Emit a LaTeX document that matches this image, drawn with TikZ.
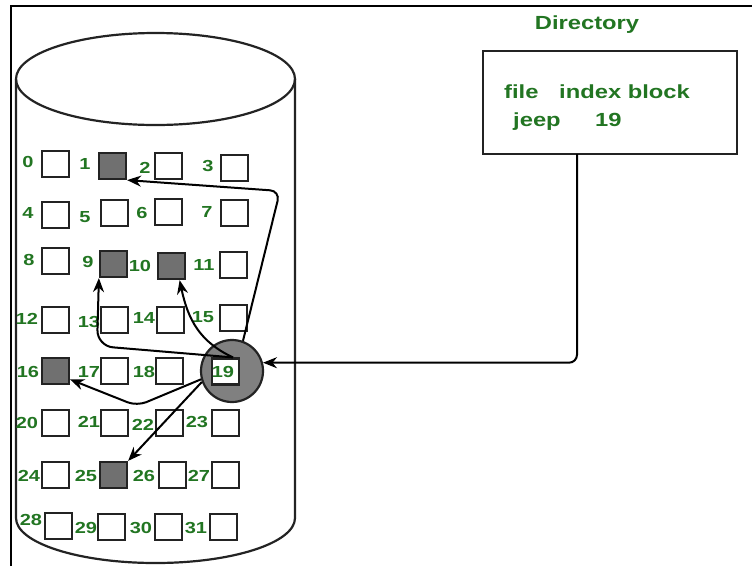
\documentclass[tikz,border=0pt]{standalone}
\usepackage{fontspec}
\newfontfamily\lblfont{Liberation Sans}[FakeStretch=1.25]
\definecolor{numgreen}{RGB}{34,117,34}
\definecolor{blkgray}{RGB}{112,112,112}
\definecolor{hubgray}{RGB}{128,128,128}
\definecolor{edgecol}{RGB}{35,35,35}
\usetikzlibrary{arrows.meta, positioning, calc}

\begin{document}
\begin{tikzpicture}[
  x=1pt, y=-1pt,
  blk/.style={rectangle, draw=edgecol, line width=2.2pt, fill=white,
              minimum width=27pt, minimum height=26pt, inner sep=0pt},
  used/.style={blk, fill=blkgray},
  num/.style={text=numgreen, inner sep=0pt,
              font=\lblfont\bfseries\fontsize{16}{16}\selectfont},
  dirtxt/.style={text=numgreen, inner sep=0pt,
                 font=\lblfont\bfseries\fontsize{19}{19}\selectfont},
  arr/.style={-{Stealth[length=14pt, width=11pt]}, line width=2pt, color=black}
]
\useasboundingbox (0,0) rectangle (752,566);

% frame and disk
\draw[line width=2.4pt, draw=black] (11,566) -- (11,6) -- (752,6);
\draw[line width=2.2pt, draw=edgecol] (155.5,79) ellipse [x radius=139.5, y radius=46];
\draw[line width=2.2pt, draw=edgecol] (16,79) -- (16,518)
  arc[start angle=180, end angle=0, x radius=139.5, y radius=45] -- (295,79);

\node[circle, draw=edgecol, line width=2.2pt, fill=hubgray, minimum size=62pt,
      inner sep=0pt] (hub) at (232,371) {};

% blocks
\node[blk]  (b0)  at (55.5,164)   {}; \node[num] (n0)  at (28,162)  {0};
\node[used] (b1)  at (112.5,166)  {}; \node[num] (n1)  at (85,164)  {1};
\node[blk]  (b2)  at (168.5,166)  {}; \node[num] (n2)  at (145,168) {2};
\node[blk]  (b3)  at (234.5,168)  {}; \node[num] (n3)  at (208,166) {3};
\node[blk]  (b4)  at (55.5,215)   {}; \node[num] (n4)  at (28,213)  {4};
\node[blk]  (b5)  at (114.5,213)  {}; \node[num] (n5)  at (85,217)  {5};
\node[blk]  (b6)  at (168.5,212)  {}; \node[num] (n6)  at (142,213) {6};
\node[blk]  (b7)  at (234.5,213)  {}; \node[num] (n7)  at (207,212) {7};
\node[blk]  (b8)  at (55.5,261)   {}; \node[num] (n8)  at (29,260)  {8};
\node[used] (b9)  at (113.5,264)  {}; \node[num] (n9)  at (88,262)  {9};
\node[used] (b10) at (171.5,266)  {}; \node[num] (n10) at (140,266) {10};
\node[blk]  (b11) at (233.5,265)  {}; \node[num] (n11) at (204,265) {11};
\node[blk]  (b12) at (55.5,320)   {}; \node[num] (n12) at (27,319)  {12};
\node[blk]  (b13) at (114.5,320)  {}; \node[num] (n13) at (89,322)  {13};
\node[blk]  (b14) at (170.5,320)  {}; \node[num] (n14) at (144,318) {14};
\node[blk]  (b15) at (233.5,318)  {}; \node[num] (n15) at (203,317) {15};
\node[used] (b16) at (55.5,371)   {}; \node[num] (n16) at (28,372)  {16};
\node[blk]  (b17) at (114.5,371)  {}; \node[num] (n17) at (89,372)  {17};
\node[blk]  (b18) at (169.5,371)  {}; \node[num] (n18) at (144,372) {18};
\node[blk]  (b19) at (225.5,371.5) {}; \node[num] (n19) at (223,372) {19};
\node[blk]  (b20) at (55.5,423)   {}; \node[num] (n20) at (27,423)  {20};
\node[blk]  (b21) at (114.5,423)  {}; \node[num] (n21) at (89,422)  {21};
\node[blk]  (b22) at (169.5,423)  {}; \node[num] (n22) at (143,425) {22};
\node[blk]  (b23) at (225.5,423)  {}; \node[num] (n23) at (197,422) {23};
\node[blk]  (b24) at (55.5,475)   {}; \node[num] (n24) at (29,476)  {24};
\node[used] (b25) at (113.5,475)  {}; \node[num] (n25) at (86,476)  {25};
\node[blk]  (b26) at (172.5,475)  {}; \node[num] (n26) at (144,476) {26};
\node[blk]  (b27) at (225.5,475)  {}; \node[num] (n27) at (199,476) {27};
\node[blk]  (b28) at (58.5,526)   {}; \node[num] (n28) at (31,520)  {28};
\node[blk]  (b29) at (111.5,527)  {}; \node[num] (n29) at (86,528)  {29};
\node[blk]  (b30) at (168.5,527)  {}; \node[num] (n30) at (141,528) {30};
\node[blk]  (b31) at (223.5,527)  {}; \node[num] (n31) at (196,528) {31};

% directory
\node[dirtxt, anchor=base] (dirtitle) at (587,29) {Directory};
\node[draw=edgecol, line width=2.2pt, minimum width=254pt, minimum height=103pt,
      inner sep=0pt] (dir) at (610,102.5) {};
\node[dirtxt, anchor=base west] (colfile) at (504,98)  {file};
\node[dirtxt, anchor=base west] (colidx)  at (559,98)  {index block};
\node[dirtxt, anchor=base west] (fname)   at (513,126) {jeep};
\node[dirtxt, anchor=base west] (fidx)    at (595,126) {19};
\coordinate (dirout) at (577,154);
\coordinate (top19) at ([xshift=7.5pt]b19.north);

% pointers
\draw[arr, rounded corners=8pt] (dirout) |- (hub.15);
\draw[arr, rounded corners=10pt] (hub.70) -- (280,191) -- (b1.south east);
\draw[arr, rounded corners=16pt] (top19) -- (97,346) -- (b9.south west);
\draw[arr] (top19) .. controls (200,342) and (188,320) .. (b10.-60);
\draw[arr, rounded corners=10pt] (hub.195) -- (137,406) -- (b16.-30);
\draw[arr] (hub.200) -- (b25.north east);

\end{tikzpicture}
\end{document}
